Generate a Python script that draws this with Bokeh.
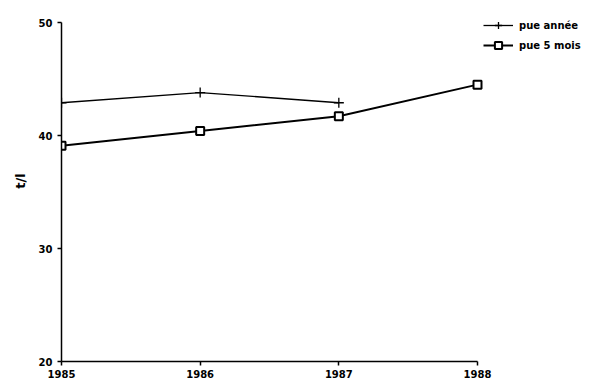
from bokeh.plotting import figure
from bokeh.models import Range1d, FixedTicker, Legend, LegendItem, ColumnDataSource
from bokeh.embed import file_html
from bokeh.resources import INLINE

years_annee = [1985, 1986, 1987]
pue_annee = [42.9, 43.8, 42.9]
years_5mois = [1985, 1986, 1987, 1988]
pue_5mois = [39.1, 40.4, 41.7, 44.5]
x_ticks = [1985, 1986, 1987, 1988]
y_ticks = [20, 30, 40, 50]
labels = ["pue année", "pue 5 mois"]

FONT = "DejaVu Sans"

# frame covers the whole right/top space so that the legend is not clipped;
# axis lines are limited to the data span with `bounds`
px_per_year = 416 / 3
px_per_unit = 339 / 30
x_end = 1985 + 539 / px_per_year
y_end = 50 + 22 / px_per_unit

p = figure(width=600, height=392, output_backend="svg", toolbar_location=None,
           x_range=Range1d(1985, x_end), y_range=Range1d(20, y_end),
           min_border_left=61, min_border_right=0, min_border_top=0, min_border_bottom=31)
p.outline_line_color = None
p.grid.visible = False
p.background_fill_color = "white"
p.border_fill_color = "white"

src1 = ColumnDataSource(dict(x=years_annee, y=pue_annee))
src2 = ColumnDataSource(dict(x=years_5mois, y=pue_5mois))

l1 = p.line("x", "y", source=src1, line_color="black", line_width=1.3)
m1 = p.scatter("x", "y", source=src1, marker="cross", size=10, line_color="black", line_width=1.3)
l2 = p.line("x", "y", source=src2, line_color="black", line_width=2)
m2 = p.scatter("x", "y", source=src2, marker="square", size=8, line_color="black",
               fill_color="white", line_width=2)

for ax in (p.xaxis[0], p.yaxis[0]):
    ax.axis_line_color = "black"
    ax.axis_line_width = 1.5
    ax.major_tick_line_color = "black"
    ax.major_tick_line_width = 1.5
    ax.major_tick_out = 4
    ax.major_tick_in = 0
    ax.minor_tick_line_color = None
    ax.major_label_text_font = FONT
    ax.major_label_text_font_style = "bold"
    ax.major_label_text_font_size = "10px"
    ax.major_label_text_color = "black"

p.xaxis[0].ticker = FixedTicker(ticks=x_ticks)
p.xaxis[0].bounds = (1985, 1988)
p.xaxis[0].major_label_standoff = 4
p.yaxis[0].ticker = FixedTicker(ticks=y_ticks)
p.yaxis[0].bounds = (20, 50)
p.yaxis[0].major_label_standoff = 5
p.yaxis[0].axis_label = "t/l"
p.yaxis[0].axis_label_text_font = FONT
p.yaxis[0].axis_label_text_font_style = "bold"
p.yaxis[0].axis_label_text_font_size = "13px"
p.yaxis[0].axis_label_text_color = "black"
p.yaxis[0].axis_label_standoff = 8

legend = Legend(items=[LegendItem(label=labels[0], renderers=[l1, m1]),
                       LegendItem(label=labels[1], renderers=[l2, m2])],
                location=(422, 307))
legend.background_fill_alpha = 0
legend.border_line_color = None
legend.label_text_font = FONT
legend.label_text_font_style = "bold"
legend.label_text_font_size = "10px"
legend.label_text_color = "black"
legend.glyph_width = 30
legend.glyph_height = 18
legend.label_height = 18
legend.label_standoff = 6
legend.spacing = 2
legend.padding = 0
legend.margin = 0
p.add_layout(legend, "center")

open("out.html", "w").write(file_html(p, INLINE))
